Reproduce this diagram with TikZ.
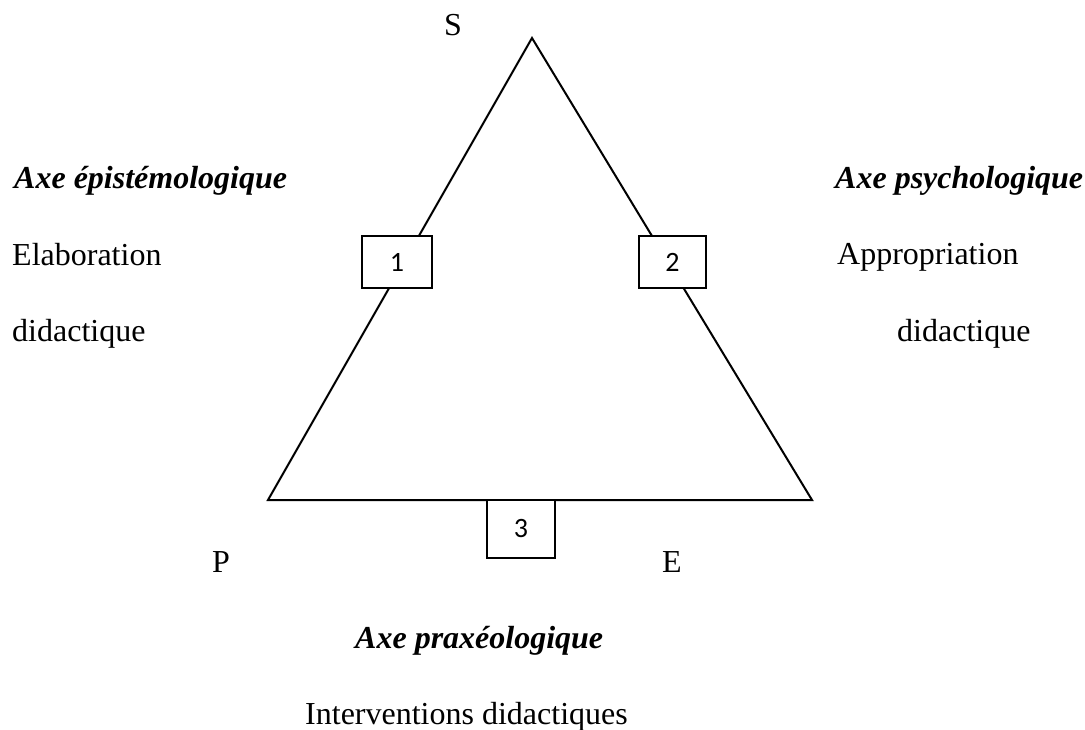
\documentclass[tikz,border=0pt]{standalone}
\usepackage{fontspec}
\setmainfont{Liberation Serif}
\newfontfamily\boxfont{Carlito}
\begin{document}
\begin{tikzpicture}[x=1pt,y=-1pt,
  txt/.style={anchor=base west,inner sep=0pt,font=\fontsize{32}{38}\selectfont},
  axe/.style={txt,font=\fontsize{32}{38}\selectfont\bfseries\itshape},
  numbox/.style={draw,line width=2pt,fill=white,inner sep=0pt,font=\boxfont\fontsize{28}{33}\selectfont},
  side/.style={line width=2pt}]
\useasboundingbox (0,0) rectangle (1085,729);
\coordinate (apex) at (532,38);
\coordinate (bl) at (268,500);
\coordinate (br) at (812,500);
\draw[side] (apex) -- (bl) -- (br) -- cycle;
\node[numbox,minimum width=70pt,minimum height=52pt] (b1) at (397,262) {1};
\node[numbox,minimum width=67pt,minimum height=52pt] (b2) at (672.5,262) {2};
\node[numbox,minimum width=68pt,minimum height=58pt] (b3) at (521,529) {3};
\node[txt] (s) at (444,35) {S};
\node[txt] (p) at (212,572) {P};
\node[txt] (e) at (662,572) {E};
\node[axe] (ax1) at (14,188) {Axe épistémologique};
\node[txt] (el) at (12,265) {Elaboration};
\node[txt] (d1) at (12,341) {didactique};
\node[axe] (ax2) at (835,188) {Axe psychologique};
\node[txt] (ap) at (837,264) {Appropriation};
\node[txt] (d2) at (897,341) {didactique};
\node[axe] (ax3) at (355,648) {Axe praxéologique};
\node[txt] (iv) at (305,724) {Interventions didactiques};
\end{tikzpicture}
\end{document}
